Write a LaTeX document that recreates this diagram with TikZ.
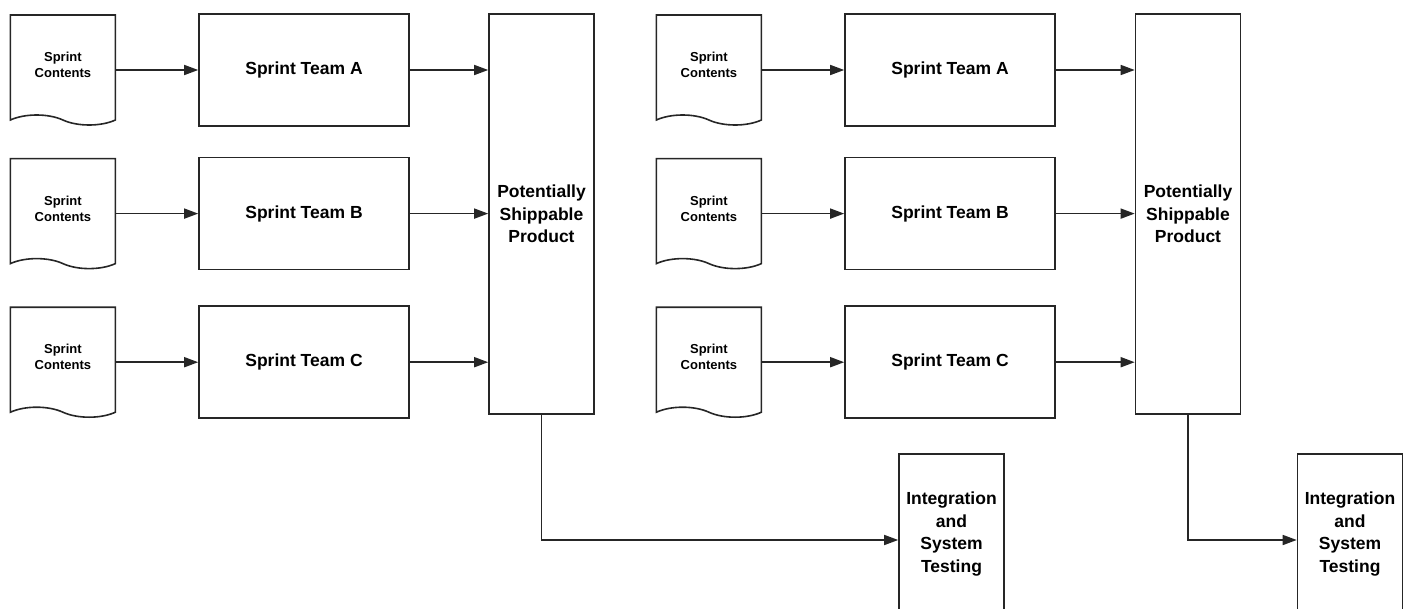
\documentclass[tikz,border=0pt]{standalone}
\usepackage{fontspec}
\setmainfont{Liberation Sans}
\usetikzlibrary{arrows.meta, positioning, shapes.symbols}

\begin{document}
\begin{tikzpicture}[
    x=1pt, y=-1pt,
    box/.style={rectangle, draw=black!85, line width=1.6pt, minimum width=210pt, minimum height=112pt, align=center, font=\fontsize{17.5}{22.5}\selectfont\bfseries},
    tall/.style={box, minimum width=105pt},
    doc/.style={tape, tape bend top=none, tape bend bottom=out and in, tape bend height=10pt, draw=black!85, line width=1.6pt, minimum width=105pt, minimum height=110pt, yshift=5pt, align=center, font=\fontsize{13}{16}\selectfont\bfseries},
    arrow/.style={-{Triangle[length=14pt, width=10pt]}, draw=black!85, line width=1.6pt},
    node distance=30pt and 82pt
]
\clip (0,0) rectangle (1406,608);

% first release
\node[box] (teamA) at (304,70) {Sprint Team A};
\node[box, below=of teamA] (teamB) {Sprint Team B};
\node[box, below=35pt of teamB] (teamC) {Sprint Team C};
\node[doc, left=of teamA] (docA) {Sprint\\Contents};
\node[doc, left=of teamB] (docB) {Sprint\\Contents};
\node[doc, left=of teamC] (docC) {Sprint\\Contents};
\node[tall, minimum height=400pt] (psp) at (541.5,214) {Potentially\\Shippable\\Product};
\node[tall, minimum height=160pt] (integ) at (951.5,534) {Integration\\and\\System\\Testing};

% second release
\node[box] (teamA2) at (950,70) {Sprint Team A};
\node[box, below=of teamA2] (teamB2) {Sprint Team B};
\node[box, below=35pt of teamB2] (teamC2) {Sprint Team C};
\node[doc, left=of teamA2] (docA2) {Sprint\\Contents};
\node[doc, left=of teamB2] (docB2) {Sprint\\Contents};
\node[doc, left=of teamC2] (docC2) {Sprint\\Contents};
\node[tall, minimum height=400pt] (psp2) at (1188,214) {Potentially\\Shippable\\Product};
\node[tall, minimum height=160pt] (integ2) at (1350,534) {Integration\\and\\System\\Testing};

\path
    (teamA.west -| docA.east) edge[arrow] (teamA)
    (teamB.west -| docB.east) edge[arrow] (teamB)
    (teamC.west -| docC.east) edge[arrow] (teamC)
    (teamA) edge[arrow] (teamA -| psp.west)
    (teamB) edge[arrow] (teamB -| psp.west)
    (teamC) edge[arrow] (teamC -| psp.west)
    (teamA2.west -| docA2.east) edge[arrow] (teamA2)
    (teamB2.west -| docB2.east) edge[arrow] (teamB2)
    (teamC2.west -| docC2.east) edge[arrow] (teamC2)
    (teamA2) edge[arrow] (teamA2 -| psp2.west)
    (teamB2) edge[arrow] (teamB2 -| psp2.west)
    (teamC2) edge[arrow] (teamC2 -| psp2.west);
\draw[arrow] (psp) |- ([yshift=-6pt]integ.west);
\draw[arrow] (psp2) |- ([yshift=-6pt]integ2.west);
\end{tikzpicture}
\end{document}
